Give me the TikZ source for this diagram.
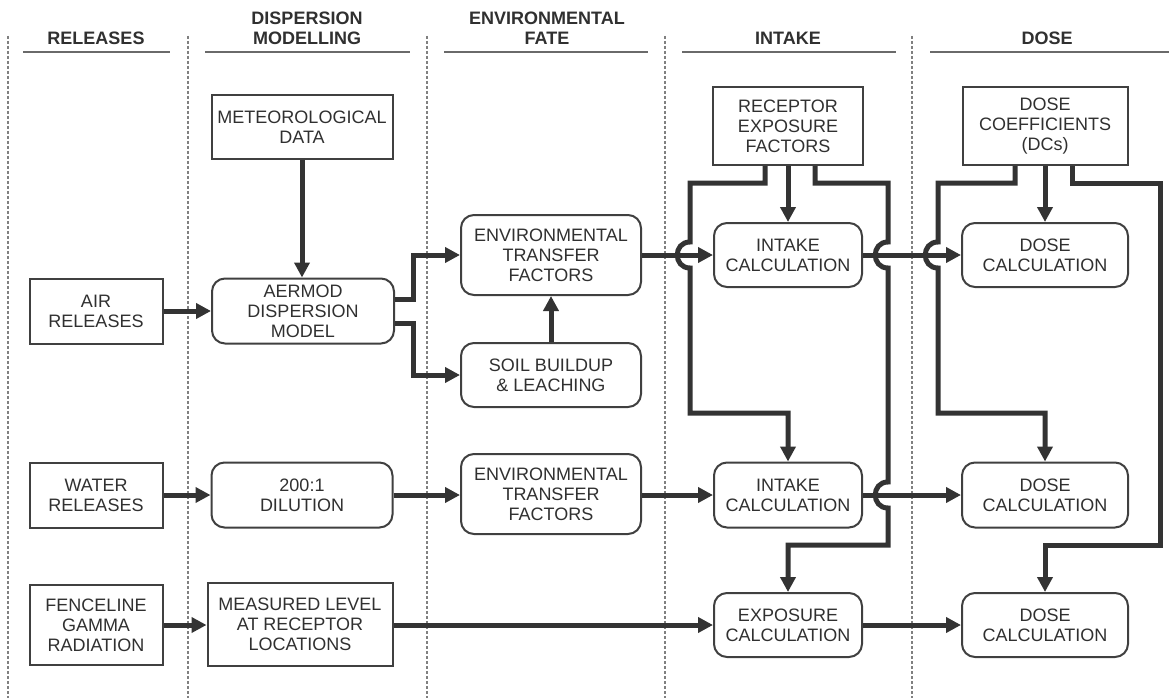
\documentclass[tikz,border=0pt]{standalone}
\usepackage{fontspec}
\setmainfont{Liberation Sans}
\usetikzlibrary{arrows.meta}
\definecolor{ink}{HTML}{333333}
\definecolor{txt}{HTML}{303030}
\definecolor{bd}{HTML}{404040}
\definecolor{dsh}{HTML}{808080}
\definecolor{rl}{HTML}{6A6A6A}
\begin{document}
\begin{tikzpicture}[x=1pt,y=-1pt,
 box/.style={draw=bd,line width=2pt,text=txt,align=center,inner sep=0pt,font=\fontsize{18}{20}\selectfont},
 rbox/.style={box,rounded corners=13pt},
 conn/.style={draw=ink,line width=5pt,line join=miter,-{Triangle[length=15pt,width=15pt]}},
 hdr/.style={text=txt,align=center,font=\bfseries\fontsize{18}{20}\selectfont,inner sep=0pt},
 sep/.style={draw=dsh,line width=1.2pt,dash pattern=on 3pt off 2pt},
 rule/.style={draw=rl,line width=2pt}]
\useasboundingbox[fill=white] (0,0) rectangle (1175,698);

% column separators
\foreach \x in {8,188,427,665,912}{\draw[sep] (\x,36) -- (\x,698);}

% headers
\node[hdr] (hrel) at (96,38) {RELEASES};
\node[hdr] (hdis) at (307,28) {DISPERSION\\MODELLING};
\node[hdr] (hfate) at (547,28) {ENVIRONMENTAL\\FATE};
\node[hdr] (hint) at (788,38) {INTAKE};
\node[hdr] (hdose) at (1047,38) {DOSE};
\draw[rule] (23,52) -- (170,52);
\draw[rule] (205,52) -- (410,52);
\draw[rule] (444,52) -- (648,52);
\draw[rule] (682,52) -- (896,52);
\draw[rule] (930,52) -- (1169,52);

% nodes
\node[box,minimum width=181pt,minimum height=63pt] (met) at (302,127) {METEOROLOGICAL\\DATA};
\node[rbox,minimum width=182pt,minimum height=65pt] (aer) at (303,311) {AERMOD\\DISPERSION\\MODEL};
\node[box,minimum width=133pt,minimum height=65pt] (air) at (96,311) {AIR\\RELEASES};
\node[rbox,minimum width=180pt,minimum height=80pt] (etf1) at (551,255) {ENVIRONMENTAL\\TRANSFER\\FACTORS};
\node[rbox,minimum width=180pt,minimum height=64pt] (soil) at (551,375) {SOIL BUILDUP\\\& LEACHING};
\node[box,minimum width=150pt,minimum height=78pt] (rec) at (788,126) {RECEPTOR\\EXPOSURE\\FACTORS};
\node[rbox,minimum width=148pt,minimum height=64pt] (int1) at (788,255) {INTAKE\\CALCULATION};
\node[box,minimum width=165pt,minimum height=78pt] (dc) at (1045,126) {DOSE\\COEFFICIENTS\\(DCs)};
\node[rbox,minimum width=166pt,minimum height=64pt] (dose1) at (1045,255) {DOSE\\CALCULATION};
\node[box,minimum width=133pt,minimum height=65pt] (wat) at (96,495) {WATER\\RELEASES};
\node[rbox,minimum width=181pt,minimum height=65pt] (dil) at (302,495) {200:1\\DILUTION};
\node[rbox,minimum width=180pt,minimum height=80pt] (etf2) at (551,494) {ENVIRONMENTAL\\TRANSFER\\FACTORS};
\node[rbox,minimum width=148pt,minimum height=65pt] (int2) at (788,495) {INTAKE\\CALCULATION};
\node[rbox,minimum width=166pt,minimum height=65pt] (dose2) at (1045,495) {DOSE\\CALCULATION};
\node[box,minimum width=133pt,minimum height=80pt] (fen) at (96,625) {FENCELINE\\GAMMA\\RADIATION};
\node[box,minimum width=185pt,minimum height=83pt] (meas) at (300,624) {MEASURED LEVEL\\AT RECEPTOR\\LOCATIONS};
\node[rbox,minimum width=148pt,minimum height=64pt] (exp) at (788,625) {EXPOSURE\\CALCULATION};
\node[rbox,minimum width=166pt,minimum height=64pt] (dose3) at (1045,625) {DOSE\\CALCULATION};

% connectors
\draw[conn] (met.south) -- (met.south |- aer.north);
\draw[conn] (air) -- (aer);
\draw[conn] ([yshift=12pt]aer.east) -- ++(18,0) |- (etf1.west);
\draw[conn] ([yshift=-12pt]aer.east) -- ++(18,0) |- (soil.west);
\draw[conn] (soil) -- (etf1);
\draw[conn] (etf1.east) -- (int1.west);
\draw[conn] (rec) -- (int1);
\draw[conn] (int1.east) -- (dose1.west);
\draw[conn] (dc) -- (dose1);
\draw[conn] (wat) -- (dil);
\draw[conn] (dil) -- (etf2.west |- dil.east);
\draw[conn] (etf2.east |- int2.west) -- (int2.west);
\draw[conn] (int2) -- (dose2);
\draw[conn] (fen) -- (fen -| meas.west);
\draw[conn] (meas.east |- exp.west) -- (exp.west);
\draw[conn] (exp) -- (dose3);

\draw[conn] ([xshift=-23pt]rec.south) -- ++(0,17) -| (690,242)
  .. controls (673,242) and (673,268) .. (690,268) -- (690,413) -| (int2.north);
\draw[conn] ([xshift=27pt]rec.south) -- ++(0,17) -| (888,242)
  .. controls (871,242) and (871,268) .. (888,268) -- (888,482)
  .. controls (871,482) and (871,508) .. (888,508) -- (888,545) -| (exp.north);
\draw[conn] ([xshift=-30pt]dc.south) -- ++(0,17) -| (938,242)
  .. controls (921,242) and (921,268) .. (938,268) -- (938,413) -| (dose2.north);
\draw[conn] ([xshift=27pt]dc.south) -- ++(0,17) -| (1160,545) -| (dose3.north);
\end{tikzpicture}
\end{document}
